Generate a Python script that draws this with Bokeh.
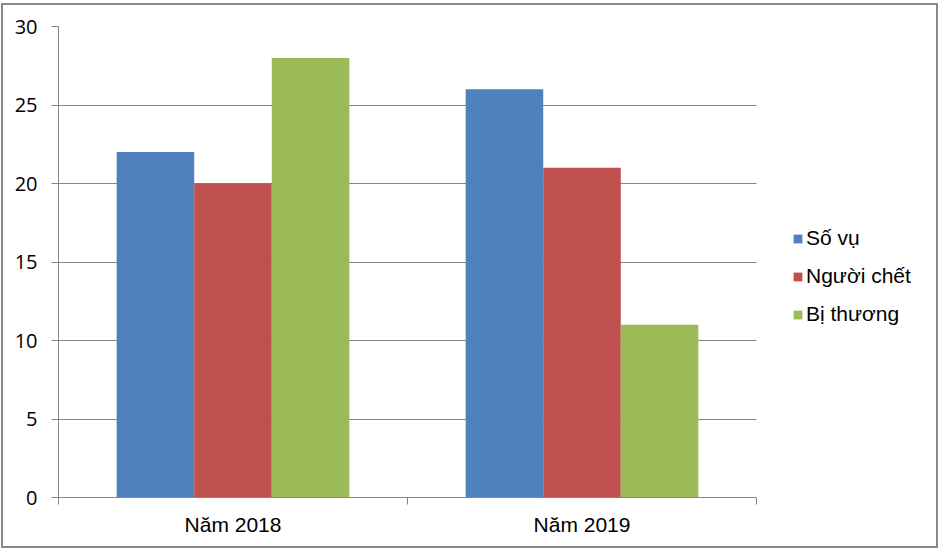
from bokeh.plotting import figure
from bokeh.models import Range1d, FixedTicker, Legend
from bokeh.transform import dodge
from bokeh.embed import file_html
from bokeh.resources import INLINE

categories = ["Năm 2018", "Năm 2019"]
series = ["Số vụ", "Người chết", "Bị thương"]
so_vu = [22, 26]
nguoi_chet = [20, 21]
bi_thuong = [28, 11]
colors = ["#4F81BD", "#C0504D", "#9BBB59"]
y_ticks = [0, 5, 10, 15, 20, 25, 30]

n = len(categories)
centers = [i + 0.5 for i in range(n)]
data = {"pos": centers, "s0": so_vu, "s1": nguoi_chet, "s2": bi_thuong}

# the frame is widened to the right so the legend sits inside it
x_end = n * 872 / 698

p = figure(width=937, height=545, output_backend="svg", toolbar_location=None,
           x_range=Range1d(0, x_end), y_range=Range1d(0, 30),
           min_border_left=55, min_border_right=10, min_border_top=21,
           min_border_bottom=53)
p.styles = {"border": "2px solid #898989", "margin": "3px 0 0 1px"}
p.outline_line_color = None
p.background_fill_color = "white"
p.border_fill_color = "white"

bar_w = 1 / 4.5
offsets = [-bar_w, 0, bar_w]
renderers = []
for i, (col, name) in enumerate(zip(["s0", "s1", "s2"], series)):
    r = p.vbar(x=dodge("pos", offsets[i]), top=col, width=bar_w,
               source=data, fill_color=colors[i], line_color=None)
    renderers.append((name, [r]))

# y axis
p.yaxis.ticker = FixedTicker(ticks=y_ticks)
p.yaxis.minor_tick_line_color = None
p.yaxis.major_tick_in = 0
p.yaxis.major_tick_out = 7
p.yaxis.major_tick_line_color = "#868686"
p.yaxis.axis_line_color = "#868686"
p.yaxis.major_label_standoff = 14
p.yaxis.major_label_text_font = "Open Sans"
p.yaxis.major_label_text_font_size = "20px"
p.yaxis.major_label_text_color = "black"

p.ygrid.grid_line_color = "#868686"
p.ygrid.ticker = FixedTicker(ticks=y_ticks)
p.ygrid.cross_bounds = (0, n)
p.xgrid.grid_line_color = None

# x axis: labels at category centres, tick marks at category boundaries
xa = p.xaxis[0]
xa.bounds = (0, n)
xa.ticker = FixedTicker(ticks=centers, minor_ticks=list(range(n + 1)))
xa.major_label_overrides = {c: lab for c, lab in zip(centers, categories)}
xa.major_tick_in = 0
xa.major_tick_out = 0
xa.minor_tick_in = 0
xa.minor_tick_out = 7
xa.minor_tick_line_color = "#868686"
xa.axis_line_color = "#868686"
xa.major_label_standoff = 8
xa.major_label_text_font = "Liberation Sans"
xa.major_label_text_font_size = "21px"
xa.major_label_text_color = "black"

legend = Legend(items=renderers, location=(734, 171), orientation="vertical",
                glyph_width=11, glyph_height=11, label_standoff=3,
                label_height=22, spacing=14,
                padding=0, margin=0, border_line_color=None,
                background_fill_alpha=0,
                label_text_font="Liberation Sans", label_text_font_size="21px",
                label_text_color="black")
p.add_layout(legend, "center")

open("out.html", "w").write(file_html(p, INLINE))
